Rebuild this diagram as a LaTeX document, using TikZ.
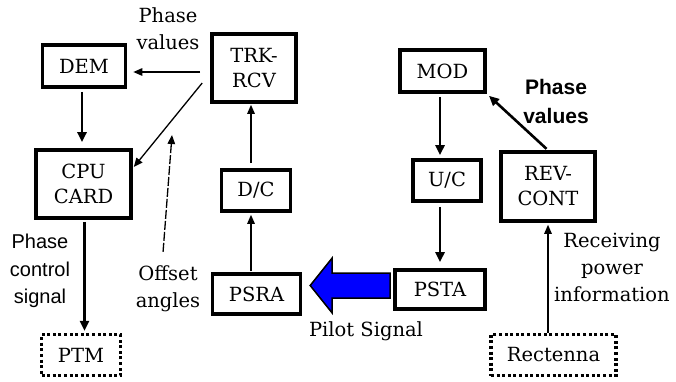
\documentclass[tikz,border=0pt]{standalone}
\usepackage{fontspec}
\setmainfont{DejaVu Serif}
\newfontfamily\arial{Liberation Sans}
\usetikzlibrary{arrows.meta}

\begin{document}
\begin{tikzpicture}[x=1pt,y=-1pt]
  \tikzstyle{boite}=[draw=black, line width=3.6pt, text centered, align=center,
  inner sep=0pt, font=\fontsize{19.5}{25}\selectfont]
  \tikzstyle{pointille}=[boite, line width=3.2pt, dash pattern=on 3pt off 2.6pt]
  \tikzstyle{texte}=[align=center, inner sep=0pt, font=\fontsize{19.5}{27}\selectfont]
  \tikzstyle{texte sans}=[align=center, inner sep=0pt, font=\arial\fontsize{20}{27.5}\selectfont]
  \tikzstyle{fleche}=[-{Triangle[length=10pt,width=9pt]}, line width=2.6pt]
  \tikzstyle{fleche fine}=[-{Triangle[length=9pt,width=7.5pt]}, line width=1.3pt]
  \tikzstyle{bleue}=[draw=black, line width=1.5pt, fill=blue]
  \useasboundingbox (0,0) rectangle (676,382);
  % blocs
  \node[boite, minimum width=83pt, minimum height=42pt] (dem) at (84,66) {DEM};
  \node[boite, minimum width=84pt, minimum height=68pt] (trk) at (254,68) {TRK-\\RCV};
  \node[boite, minimum width=95pt, minimum height=68pt] (cpu) at (83.5,184) {CPU\\CARD};
  \node[boite, minimum width=69pt, minimum height=41pt] (dc) at (256,190.5) {D/C};
  \node[boite, minimum width=88pt, minimum height=40pt] (psra) at (256.5,294) {PSRA};
  \node[pointille, minimum width=79pt, minimum height=41pt] (ptm) at (81,355) {PTM};
  \node[boite, minimum width=85pt, minimum height=42pt] (mod) at (442.5,71) {MOD};
  \node[boite, minimum width=68pt, minimum height=41pt] (uc) at (447,180.5) {U/C};
  \node[boite, minimum width=94pt, minimum height=69pt] (rev) at (548,186.5) {REV-\\CONT};
  \node[boite, minimum width=90pt, minimum height=39pt] (psta) at (440,289.5) {PSTA};
  \node[pointille, minimum width=125pt, minimum height=41pt] (rect) at (553.5,355) {Rectenna};
  % textes
  \node[texte] (pv1) at (168,29) {Phase\\values};
  \node[texte sans, font=\arial\bfseries\fontsize{21}{29}\selectfont] (pv2) at (556,101) {Phase\\values};
  \node[texte sans] (pcs) at (40,271) {Phase\\control\\signal};
  \node[texte] (off) at (168,289) {Offset\\angles};
  \node[texte] (pil) at (366,331) {Pilot Signal};
  \node[texte] (rpi) at (612,267) {Receiving\\power\\information};
  \coordinate (offbout) at (172,135);
  % liaisons
  \draw[fleche fine, shorten <=10pt, shorten >=6pt] ([yshift=-4pt]trk.west) -- ([yshift=-6pt]dem.east);
  \draw[fleche fine] ([xshift=-8pt,yshift=-15pt]trk.west) -- ([xshift=1pt,yshift=17pt]cpu.east);
  \draw[fleche, shorten <=3pt, shorten >=6pt] ([xshift=-2pt]dem.south) -- ([xshift=-2pt]dem.south |- cpu.north);
  \draw[fleche, shorten <=2pt, shorten >=2pt] ([xshift=1pt]cpu.south) -- ([xshift=1pt]cpu.south |- ptm.north);
  \draw[fleche fine, shorten <=5pt, shorten >=1pt] ([xshift=-5pt]dc.north) -- ([xshift=-5pt]dc.north |- trk.south);
  \draw[fleche fine, shorten <=1pt, shorten >=2pt] ([xshift=-5pt]dc.south |- psra.north) -- ([xshift=-5pt]dc.south);
  \draw[fleche fine, dash pattern=on 9pt off 2pt, shorten <=14pt] ([xshift=-6pt]off.north) -- (offbout);
  \draw[fleche, shorten <=3pt, shorten >=3pt] ([xshift=-2.5pt]mod.south) -- ([xshift=-2.5pt]mod.south |- uc.north);
  \draw[fleche, shorten <=4pt, shorten >=6pt] (psta.north |- uc.south) -- (psta.north);
  \draw[fleche, shorten <=2pt, shorten >=3pt] (rev.north) -- (mod.south east);
  \draw[fleche fine, shorten >=2pt] (rev.south |- rect.north) -- (rev.south);
  % signal pilote
  \draw[bleue] ([xshift=-3pt,yshift=4pt]psta.west) -- ++(0,-12.5) -- ++(-58,0)
    -- ++(0,-15) -- ++(-22,27.5) -- ++(22,27.5) -- ++(0,-15) -- ++(58,0) -- cycle;
\end{tikzpicture}
\end{document}
